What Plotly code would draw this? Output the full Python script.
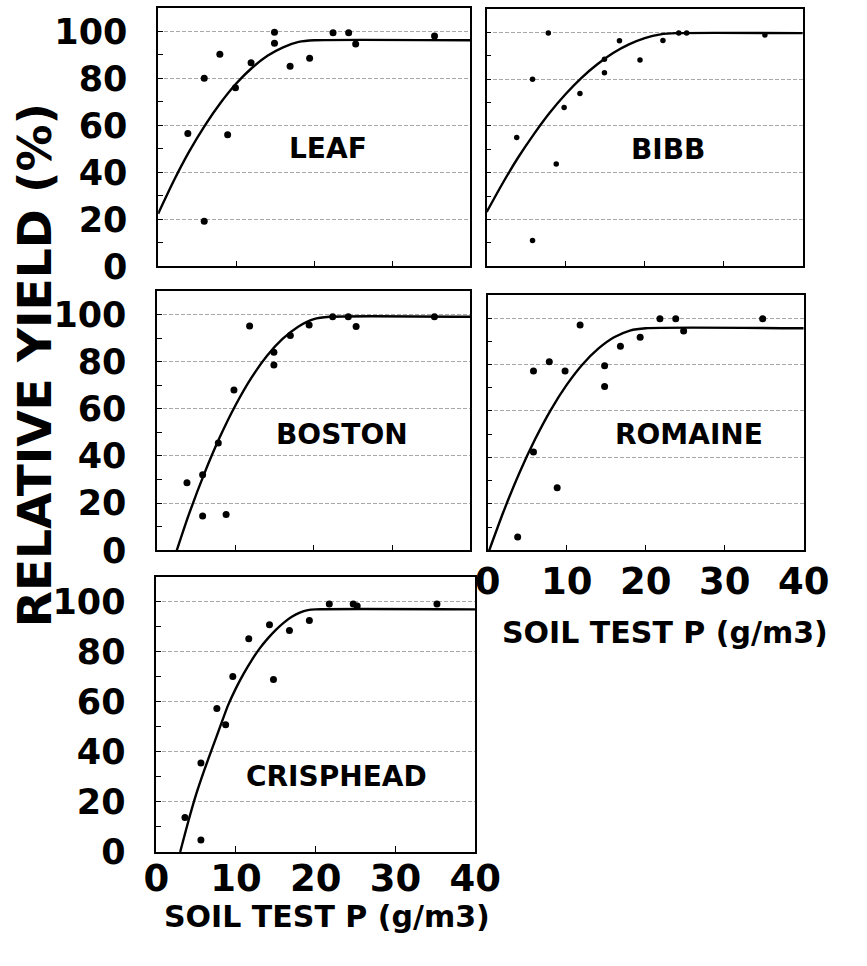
import plotly.graph_objects as go

# ---------------- data ----------------
panel_names = ["LEAF", "BIBB", "BOSTON", "ROMAINE", "CRISPHEAD"]

leaf_x = [3.8, 5.9, 5.9, 7.9, 8.9, 9.9, 11.9, 14.9, 14.9, 16.9, 19.4, 22.4, 24.4, 25.3, 35.4]
leaf_y = [56.5, 80, 19.2, 90.3, 56, 76, 86.6, 99.6, 94.9, 85.1, 88.6, 99.4, 99.4, 94.6, 98]
leaf_fit_x = [0, 2, 4, 6, 8, 10, 12, 14, 16, 18, 20, 40]
leaf_fit_y = [22.4, 36.4, 49, 60, 69.6, 77.8, 84.4, 89.6, 93.2, 95.5, 96.2, 96.2]

bibb_x = [3.8, 5.8, 5.8, 7.8, 8.8, 9.8, 11.8, 14.9, 14.9, 16.8, 19.4, 22.3, 24.3, 25.3, 35.2]
bibb_y = [55, 79.9, 11.1, 99.7, 43.7, 67.8, 73.8, 88.5, 82.7, 96.4, 88.1, 96.5, 99.7, 99.7, 98.8]
bibb_fit_x = [0, 2, 4, 6, 8, 10, 12, 14, 16, 18, 20, 22, 24, 40]
bibb_fit_y = [23.2, 35.4, 46.6, 56.6, 65.7, 73.6, 80.5, 86.3, 91.1, 94.8, 97.5, 99.1, 99.6, 99.6]

boston_x = [3.8, 5.8, 5.8, 7.8, 8.8, 9.8, 11.8, 14.9, 14.9, 17.0, 19.4, 22.4, 24.4, 25.4, 35.4]
boston_y = [28.7, 32, 14.6, 45.5, 15.2, 68, 95.1, 84, 78.6, 91.1, 95.5, 99, 99, 94.9, 99]
boston_fit_x = [2.5, 4, 6, 8, 10, 12, 14, 16, 18, 20, 22, 40]
boston_fit_y = [0, 14.8, 32.4, 48, 61.5, 73, 82.4, 89.6, 94.8, 98, 99, 99]

romaine_x = [3.8, 5.8, 5.8, 7.8, 8.8, 9.8, 11.7, 14.8, 14.8, 16.8, 19.3, 21.8, 23.8, 24.8, 34.8]
romaine_y = [5.8, 77.2, 42.3, 81.2, 27, 77.2, 97, 79.5, 70.5, 87.8, 91.7, 99.7, 99.7, 94.4, 99.7]
romaine_fit_x = [0.2, 2, 4, 6, 8, 10, 12, 14, 16, 18, 20, 40]
romaine_fit_y = [0, 16.6, 33.2, 47.8, 60.5, 71.2, 80, 86.8, 91.7, 94.6, 95.6, 95.6]

crisp_x = [3.6, 5.6, 5.6, 7.6, 8.7, 9.6, 11.6, 14.2, 14.7, 16.7, 19.2, 21.7, 24.7, 25.2, 35.2]
crisp_y = [13.8, 35.6, 4.8, 57.4, 50.9, 70.2, 85.2, 90.8, 69, 88.5, 92.5, 99.1, 99.1, 98.3, 99.1]
crisp_fit_x = [3, 4, 5, 6, 7, 8, 9, 10, 11, 12, 13, 14, 15, 16, 17, 18, 19, 20, 40]
crisp_fit_y = [0, 12, 23, 32.5, 41.3, 50, 58.6, 65.5, 71.5, 76.8, 81.5, 85.4, 88.8, 91.7, 94, 95.7, 96.7, 97, 97]

y_ticks = [0, 20, 40, 60, 80, 100]
y_minor = [10, 30, 50, 70, 90]
x_ticks = [0, 10, 20, 30, 40]
label_pos = [(21.8, 50), (23, 50), (23.6, 49), (25.5, 50), (22.6, 30)]

y_title = "RELATIVE YIELD (%)"
x_title = "SOIL TEST P (g/m3)"

# ---------------- figure ----------------
W, H = 867, 966
boxes = [  # left, top, right, bottom in pixels
    (152, 8, 479, 272),
    (496, 9, 827, 272),
    (151, 297, 479, 562),
    (497, 301, 828, 562),
    (150, 589, 484, 870),
]
show_y = [True, False, True, False, True]
show_x = [False, False, False, True, True]
x_standoff = [0, 0, 0, -3, -7]

series = [
    (leaf_x, leaf_y, leaf_fit_x, leaf_fit_y, 7),
    (bibb_x, bibb_y, bibb_fit_x, bibb_fit_y, 5.5),
    (boston_x, boston_y, boston_fit_x, boston_fit_y, 7),
    (romaine_x, romaine_y, romaine_fit_x, romaine_fit_y, 7),
    (crisp_x, crisp_y, crisp_fit_x, crisp_fit_y, 7),
]

BOLD = dict(family="DejaVu Sans", weight="bold", color="black")

fig = go.Figure()
layout = dict(
    width=W, height=H, margin=dict(l=0, r=0, t=0, b=0),
    paper_bgcolor="white", plot_bgcolor="white", showlegend=False,
    annotations=[],
)

for i, (px, py, fx, fy, ms) in enumerate(series):
    n = "" if i == 0 else str(i + 1)
    xa, ya = "x" + n, "y" + n
    fig.add_trace(go.Scatter(x=fx, y=fy, mode="lines", xaxis=xa, yaxis=ya,
                             line=dict(color="black", width=2.4, shape="spline", smoothing=0.6),
                             hoverinfo="skip"))
    fig.add_trace(go.Scatter(x=px, y=py, mode="markers", xaxis=xa, yaxis=ya,
                             marker=dict(color="black", size=ms)))
    l, t, r, b = boxes[i]
    layout["xaxis" + n] = dict(
        domain=[l / W, r / W], anchor=ya, range=[0, 40],
        tickvals=x_ticks, ticktext=[str(v) for v in x_ticks],
        showticklabels=show_x[i], ticks="inside", ticklen=6, tickcolor="black",
        tickfont=dict(size=37, **BOLD), ticklabelstandoff=x_standoff[i],
        showgrid=False, zeroline=False, showline=True, mirror=True,
        linecolor="black", linewidth=1.5, fixedrange=True,
    )
    layout["yaxis" + n] = dict(
        domain=[1 - b / H, 1 - t / H], anchor=xa, range=[0, 110],
        tickvals=y_ticks, ticktext=[str(v) for v in y_ticks],
        showticklabels=show_y[i], ticks="inside", ticklen=5, tickcolor="black",
        tickfont=dict(size=35, **BOLD), ticklabelstandoff=22,
        showgrid=True, gridcolor="#a8a8a8", gridwidth=1, griddash="4px,2px",
        minor=dict(tickvals=y_minor, ticks="inside", ticklen=5, tickcolor="black", showgrid=False),
        zeroline=False, showline=True, mirror=True,
        linecolor="black", linewidth=1.5, fixedrange=True,
    )
    lx, ly = label_pos[i]
    layout["annotations"].append(dict(
        x=lx, y=ly, xref=xa, yref=ya, text=panel_names[i], showarrow=False,
        font=dict(size=28, **BOLD), xanchor="center", yanchor="middle"))

layout["annotations"] += [
    dict(x=22 / W, y=1 - 373 / H, xref="paper", yref="paper", text=y_title,
         textangle=-90, showarrow=False, xanchor="center", yanchor="middle",
         font=dict(size=47, **BOLD)),
    dict(x=683 / W, y=1 - 646 / H, xref="paper", yref="paper", text=x_title,
         showarrow=False, xanchor="center", yanchor="middle",
         font=dict(size=30, **BOLD)),
    dict(x=329 / W, y=1 - 936 / H, xref="paper", yref="paper", text=x_title,
         showarrow=False, xanchor="center", yanchor="middle",
         font=dict(size=30, **BOLD)),
]

fig.update_layout(**layout)
fig.write_html("out.html")
